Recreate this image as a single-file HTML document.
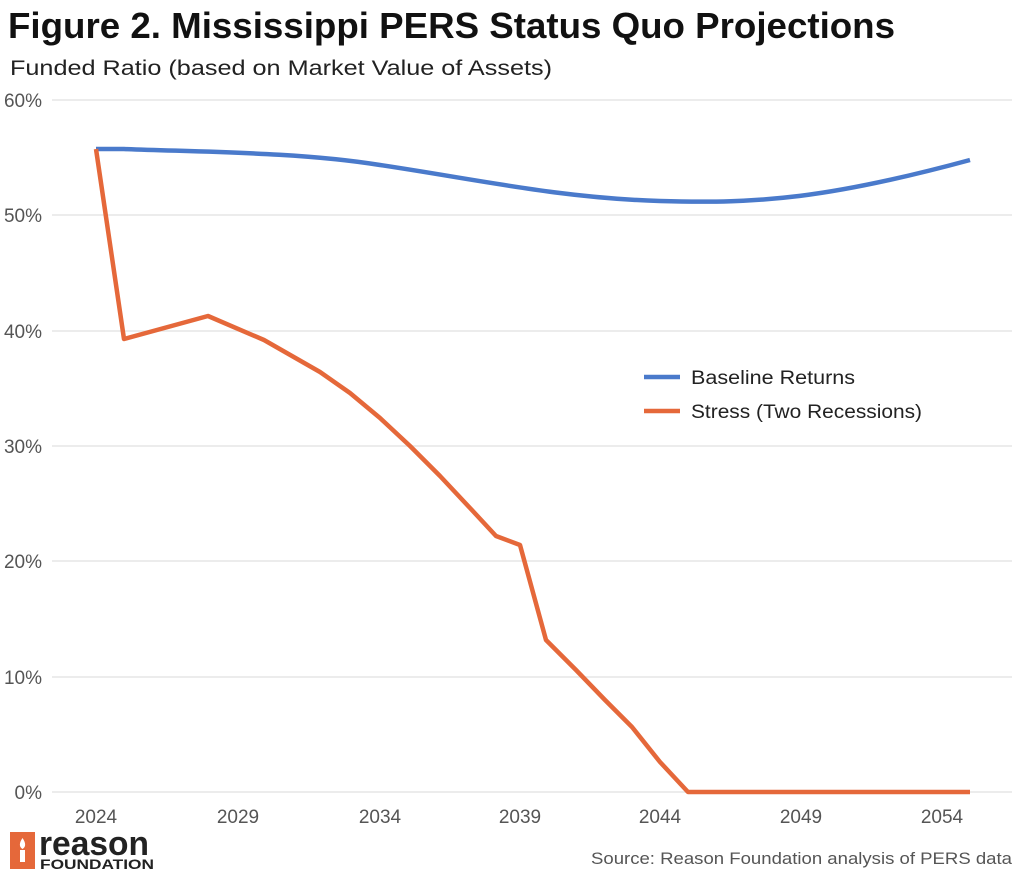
<!DOCTYPE html>
<html><head><meta charset="utf-8"><style>
body{margin:0;background:#fff;width:1024px;height:878px;overflow:hidden;font-family:"Liberation Sans",sans-serif}
</style></head><body>
<svg width="1024" height="878" xmlns="http://www.w3.org/2000/svg" font-family="Liberation Sans, sans-serif">
<text x="8" y="38" font-size="36" font-weight="bold" fill="#111" textLength="887" lengthAdjust="spacingAndGlyphs">Figure 2. Mississippi PERS Status Quo Projections</text>
<text x="10" y="75" font-size="21" fill="#222" textLength="542" lengthAdjust="spacingAndGlyphs">Funded Ratio (based on Market Value of Assets)</text>
<g stroke="#e6e6e6" stroke-width="1.5">
<line x1="52" x2="1012" y1="100" y2="100"/><line x1="52" x2="1012" y1="215" y2="215"/>
<line x1="52" x2="1012" y1="331" y2="331"/><line x1="52" x2="1012" y1="446" y2="446"/>
<line x1="52" x2="1012" y1="561" y2="561"/><line x1="52" x2="1012" y1="677" y2="677"/>
<line x1="52" x2="1012" y1="792" y2="792"/>
</g>
<g font-size="19" fill="#555" text-anchor="end">
<text x="42" y="107">60%</text><text x="42" y="222">50%</text><text x="42" y="338">40%</text>
<text x="42" y="453">30%</text><text x="42" y="568">20%</text><text x="42" y="684">10%</text><text x="42" y="799">0%</text>
</g>
<g font-size="19" fill="#555" text-anchor="middle">
<text x="96" y="823">2024</text><text x="238" y="823">2029</text><text x="380" y="823">2034</text>
<text x="520" y="823">2039</text><text x="660" y="823">2044</text><text x="801" y="823">2049</text><text x="942" y="823">2054</text>
</g>
<path d="M96,149 L124,149 C200,152 300,152 380,165 C480,180 560,198 660,201 C760,204 830,198 970,160" fill="none" stroke="#4a7acb" stroke-width="4.5"/>
<polyline points="96,149 124,339 208,316 264,340 320,372 350,393 380,418 410,446 440,476 470,508 496,536 520,545 546,640 576,670 605,700 632,727 660,762 688,792 970,792" fill="none" stroke="#e5683a" stroke-width="4.5" stroke-linejoin="round"/>
<line x1="644" x2="680" y1="377" y2="377" stroke="#4a7acb" stroke-width="4.5"/>
<line x1="644" x2="680" y1="411" y2="411" stroke="#e5683a" stroke-width="4.5"/>
<text x="691" y="384" font-size="19" fill="#222" textLength="164" lengthAdjust="spacingAndGlyphs">Baseline Returns</text>
<text x="691" y="418" font-size="19" fill="#222" textLength="231" lengthAdjust="spacingAndGlyphs">Stress (Two Recessions)</text>
<rect x="10" y="832" width="25" height="37" fill="#e5683a"/>
<path d="M20,862 L25,862 L25,850 L20,850Z M22.5,838 C19,843 19,847 22.5,849 C26,847 26,843 22.5,838Z" fill="#fff"/>
<text x="39" y="855" font-size="34" font-weight="bold" fill="#222" textLength="110" lengthAdjust="spacingAndGlyphs">reason</text>
<text x="40" y="869" font-size="14" font-weight="bold" fill="#222" textLength="114" lengthAdjust="spacingAndGlyphs">FOUNDATION</text>
<text x="1012" y="864" font-size="17" fill="#555" text-anchor="end" textLength="421" lengthAdjust="spacingAndGlyphs">Source: Reason Foundation analysis of PERS data</text>
</svg>
</body></html>
